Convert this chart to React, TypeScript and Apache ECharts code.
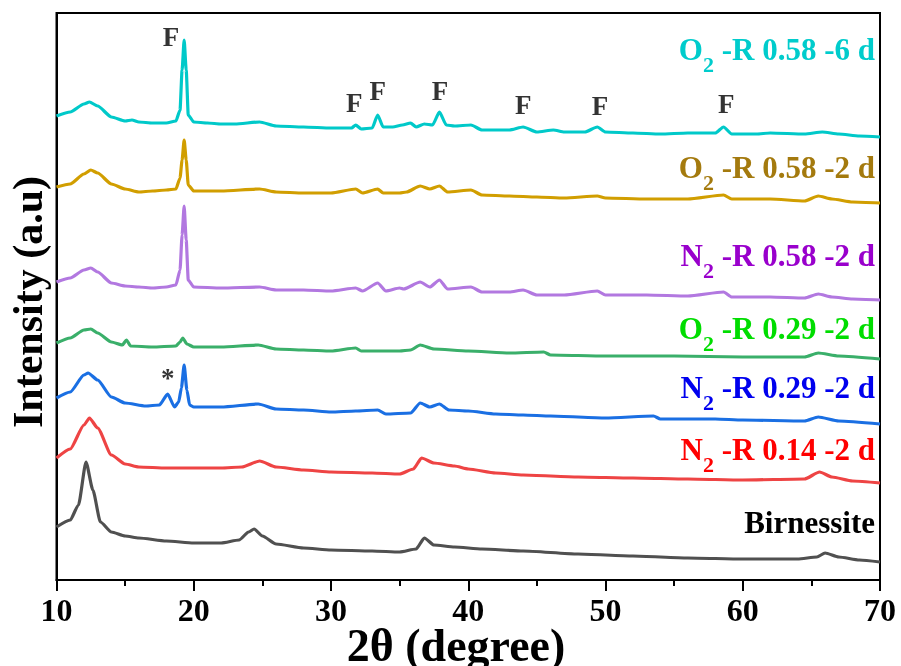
import React, { useEffect, useRef } from "react";
import * as echarts from "echarts";

// 2θ (degree) vs intensity (a.u., stacked offsets as plotted)
const o2_058_6d: number[][] = [
  [10, 464], [11, 468], [12, 476], [12.4, 478], [13, 474], [14, 463], [15, 459], [15.5, 460], [16, 458], [17, 457], [18, 457],
  [18.7, 459], [19.0, 470], [19.15, 510], [19.3, 540], [19.45, 510], [19.6, 465], [20, 458], [21, 457], [22, 456], [23, 456],
  [24.8, 458], [26, 454], [28, 453], [30, 452], [31.5, 452], [31.8, 455], [32.2, 451], [33, 452], [33.4, 465], [33.8, 453],
  [34.5, 453], [35.2, 455], [35.8, 457], [36.2, 453], [36.8, 456], [37.4, 455], [37.9, 468], [38.4, 455], [39, 454], [40.2, 455],
  [41, 450], [43, 450], [44, 453], [45, 448], [46.2, 450], [47, 448], [48.5, 448], [49.4, 453], [50, 448], [52, 447], [54, 446],
  [56, 447], [58, 447], [58.6, 453], [59.2, 446], [61, 446], [62, 447], [64.5, 446], [65.8, 448], [67, 446], [68.5, 444], [70, 443],
];
const o2_058_2d: number[][] = [
  [10, 393], [11, 396], [12, 406], [12.5, 410], [13, 407], [14, 396], [15, 391], [16, 388], [17, 389], [18, 390], [18.7, 391],
  [19.0, 402], [19.15, 420], [19.3, 440], [19.45, 420], [19.6, 395], [20, 389], [22, 389], [24.8, 391], [26, 388], [28, 387],
  [30, 387], [31.8, 391], [32.3, 387], [33.4, 391], [33.8, 387], [35, 387], [35.5, 388], [36.5, 394], [37.2, 391], [37.9, 394],
  [38.5, 388], [40.2, 390], [41, 385], [43, 384], [45, 383], [47, 382], [49.4, 384], [50, 382], [53, 381], [56, 381], [58.6, 385],
  [59.2, 381], [62, 381], [64.5, 379], [65.5, 384], [66.5, 381], [68, 378], [70, 377],
];
const n2_058_2d: number[][] = [
  [10, 298], [11, 302], [12, 310], [12.5, 312], [13, 308], [14, 297], [15, 294], [16, 293], [17, 292], [18, 293], [18.7, 295],
  [19.0, 310], [19.15, 345], [19.3, 374], [19.45, 340], [19.6, 300], [20, 293], [22, 292], [24.8, 293], [26, 290], [28, 290],
  [30, 289], [31.8, 292], [32.3, 289], [33.4, 297], [34, 289], [35, 292], [35.3, 291], [36.5, 298], [37.2, 293], [37.9, 300],
  [38.5, 291], [40.2, 293], [41, 288], [43, 288], [44, 290], [45, 285], [47, 285], [49.4, 289], [50, 285], [53, 285], [56, 284],
  [58.6, 288], [59.2, 283], [62, 283], [64.5, 282], [65.5, 286], [66.5, 283], [68, 281], [70, 280],
];
const o2_029_2d: number[][] = [
  [10, 237], [11, 242], [12, 250], [12.5, 251], [13, 247], [14, 238], [14.8, 235], [15.1, 240], [15.4, 234], [17, 233],
  [18.7, 234], [19.0, 238], [19.2, 242], [19.5, 236], [20, 233], [22, 233], [24.7, 235], [26, 231], [28, 230], [30, 229],
  [31.8, 232], [32.2, 229], [35, 229], [35.8, 230], [36.5, 235], [37.5, 231], [40, 229], [43, 227], [45.5, 228], [46, 225],
  [50, 224], [55, 224], [60, 223], [64.5, 223], [65.5, 227], [67, 224], [70, 221],
];
const n2_029_2d: number[][] = [
  [10, 182], [11, 188], [12, 205], [12.3, 207], [13, 200], [14, 183], [15, 177], [16.5, 174], [17.5, 175], [18.1, 186],
  [18.6, 173], [18.9, 178], [19.1, 192], [19.3, 215], [19.5, 190], [19.7, 175], [20, 173], [22, 173], [24.7, 176], [26, 171],
  [28, 170], [30, 168], [31.8, 169], [33.4, 170], [34, 166], [35.8, 167], [36.5, 177], [37.2, 173], [37.9, 176], [38.6, 170],
  [40, 169], [42, 166], [44, 165], [46, 164], [50, 162], [53.5, 164], [54, 161], [58, 161], [60, 160], [64.5, 159], [65.5, 163],
  [67, 159], [70, 156],
];
const n2_014_2d: number[][] = [
  [10, 122], [11, 131], [12, 155], [12.4, 162], [13, 152], [14, 125], [15, 116], [16, 113], [18, 112], [20, 112], [22, 112],
  [23.5, 113], [24.8, 119], [26, 113], [28, 110], [30, 108], [33, 107], [35, 106], [36, 111], [36.6, 122], [37.5, 117], [39, 114],
  [40, 111], [42, 107], [44, 105], [48, 103], [52, 102], [56, 101], [60, 100], [64.5, 101], [65.6, 108], [66.5, 103], [68, 99],
  [70, 97],
];
const birnessite: number[][] = [
  [10, 53], [11, 60], [11.6, 75], [12.15, 118], [12.65, 90], [13.2, 58], [14, 48], [15, 44], [16, 42], [18, 39], [20, 37], [22, 37],
  [23.3, 40], [24.0, 48], [24.4, 51], [25, 44], [26, 36], [28, 32], [30, 30], [33, 29], [35, 28], [36.2, 31], [36.8, 42],
  [37.5, 35], [39, 33], [41, 31], [44, 29], [48, 26], [52, 24], [56, 22], [60, 21], [64, 21], [65.4, 23], [66, 27], [67, 23],
  [68.5, 20], [70, 18],
];

const fMarks: number[][] = [
  [18.35, 543], [31.7, 477], [33.4, 489], [37.95, 489], [44.0, 475], [49.6, 474], [58.8, 476],
];
const starMarks: number[][] = [[18.1, 202]];

const seriesNames = [
  "O2 -R 0.58 -6 d", "O2 -R 0.58 -2 d", "N2 -R 0.58 -2 d", "O2 -R 0.29 -2 d",
  "N2 -R 0.29 -2 d", "N2 -R 0.14 -2 d", "Birnessite",
];
const seriesData = [o2_058_6d, o2_058_2d, n2_058_2d, o2_029_2d, n2_029_2d, n2_014_2d, birnessite];
const lineColors = ["#00C9C9", "#D19E00", "#B278E0", "#3AAF6A", "#1A6FE3", "#EE4444", "#505050"];

// label parts: [gas letter, subscript, rest]
const labelParts: string[][] = [
  ["O", "2", " -R 0.58 -6 d"],
  ["O", "2", " -R 0.58 -2 d"],
  ["N", "2", " -R 0.58 -2 d"],
  ["O", "2", " -R 0.29 -2 d"],
  ["N", "2", " -R 0.29 -2 d"],
  ["N", "2", " -R 0.14 -2 d"],
  ["Birnessite", "", ""],
];
const labelColors = ["#00CCCC", "#A47A0E", "#9900CC", "#00DD00", "#0000EE", "#FF0000", "#000000"];
const labelMidY = [50, 168, 256, 329, 388, 450, 523];

const FONT = "'Liberation Serif', 'Times New Roman', serif";

export default function App() {
  const ref = useRef<HTMLDivElement>(null);
  useEffect(() => {
    if (!ref.current) return;
    const chart = echarts.init(ref.current, null, { renderer: "svg" });

    const lineSeries = seriesData.map((d, i) => ({
      name: seriesNames[i],
      type: "line",
      data: d,
      showSymbol: false,
      symbol: "none",
      smooth: 0.2,
      smoothMonotone: "x",
      lineStyle: { color: lineColors[i], width: 3.2 },
      z: 2,
    }));

    const labelGraphics = labelParts.map((p, i) => ({
      type: "text",
      x: 875,
      y: labelMidY[i] - 16,
      style: {
        text: p[1] ? `{m|${p[0]}}{s|${p[1]}}{m|${p[2]}}` : `{m|${p[0]}}`,
        align: "right",
        verticalAlign: "top",
        rich: {
          m: { fontSize: 31, fontWeight: "bold", fontFamily: FONT, fill: labelColors[i], lineHeight: 31, verticalAlign: "top" },
          s: { fontSize: 22, fontWeight: "bold", fontFamily: FONT, fill: labelColors[i], lineHeight: 22, verticalAlign: "top", padding: [19, 0, 0, 0] },
        },
      },
      z: 10,
    }));

    chart.setOption({
      animation: false,
      grid: { left: 56.5, right: 21, top: 13, bottom: 86, show: true, borderColor: "#000", borderWidth: 2, backgroundColor: "transparent" },
      xAxis: {
        type: "value",
        min: 10,
        max: 70,
        interval: 10,
        axisLine: { show: true, lineStyle: { color: "#000", width: 2 } },
        axisTick: { show: true, inside: false, length: 11, lineStyle: { color: "#000", width: 2 } },
        minorTick: { show: true, splitNumber: 2, length: 6, lineStyle: { color: "#000", width: 2 } },
        splitLine: { show: false },
        axisLabel: { color: "#000", fontSize: 32, fontWeight: "bold", fontFamily: FONT, margin: 14 },
      },
      yAxis: {
        type: "value",
        min: 0,
        max: 567,
        axisLine: { show: true, lineStyle: { color: "#000", width: 2 } },
        axisTick: { show: false },
        axisLabel: { show: false },
        splitLine: { show: false },
      },
      series: [
        ...lineSeries,
        {
          name: "F",
          type: "scatter",
          data: fMarks,
          symbolSize: 0,
          label: { show: true, position: "inside", formatter: "F", color: "#000", fontSize: 27, fontWeight: "bold", fontFamily: FONT },
          z: 5,
        },
        {
          name: "*",
          type: "scatter",
          data: starMarks,
          symbolSize: 0,
          label: { show: true, position: "inside", formatter: "*", color: "#000", fontSize: 27, fontWeight: "bold", fontFamily: FONT },
          z: 5,
        },
      ],
      graphic: [
        ...labelGraphics,
        {
          type: "text",
          x: 456,
          y: 645,
          style: { text: "2θ (degree)", fontSize: 46, fontWeight: "bold", fontFamily: FONT, fill: "#000", align: "center", verticalAlign: "middle" },
          z: 10,
        },
        {
          type: "text",
          x: 28,
          y: 302,
          rotation: Math.PI / 2,
          style: { text: "Intensity (a.u)", fontSize: 42, fontWeight: "bold", fontFamily: FONT, fill: "#000", align: "center", verticalAlign: "middle" },
          z: 10,
        },
      ],
    });
    return () => chart.dispose();
  }, []);
  return <div ref={ref} style={{ position: "fixed", left: 0, top: 0, width: 901, height: 666 }} />;
}
